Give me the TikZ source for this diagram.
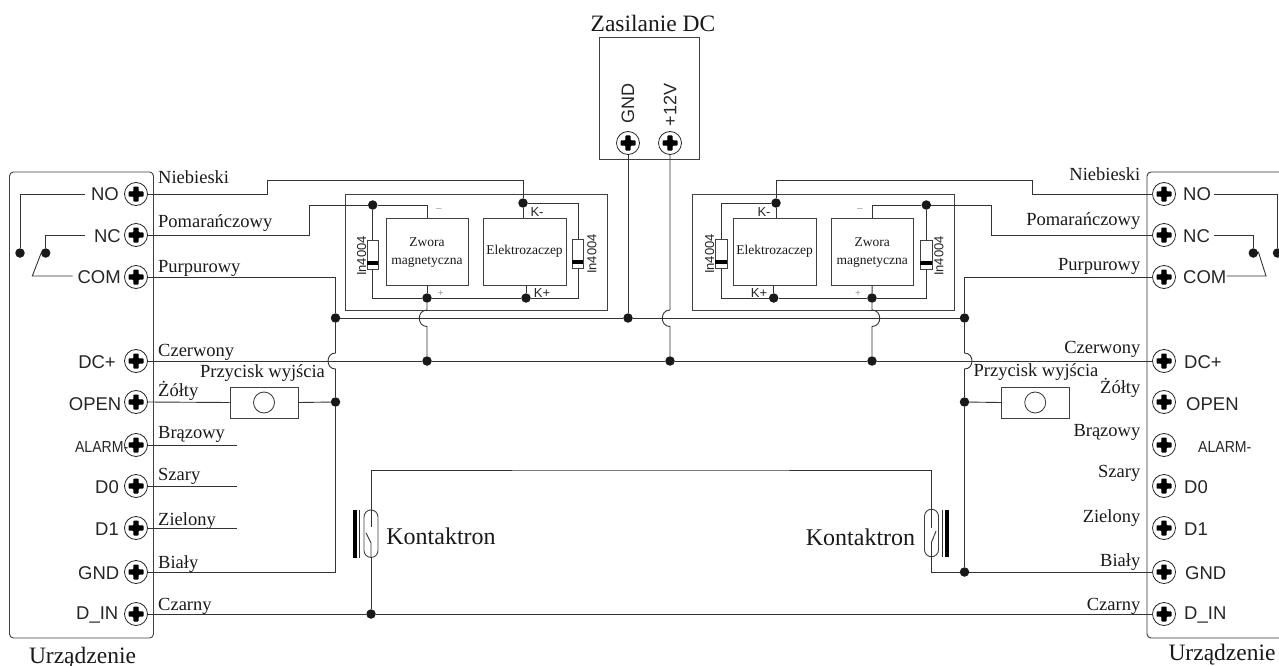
\documentclass[tikz,border=0pt]{standalone}
\usepackage{fontspec}
\setmainfont{Liberation Serif}
\newfontfamily\sansf{Liberation Sans}
\newfontfamily\alarmf[FakeStretch=0.88]{Liberation Sans}
\usetikzlibrary{positioning}

\tikzset{
    wire/.style={draw=black!80, line width=0.9pt},
    devbox/.style={draw=black!75, line width=0.9pt, rectangle, inner sep=0pt},
    term/.style={draw=black!85, line width=0.8pt, circle, minimum size=23pt, inner sep=0pt, fill=white},
    junction/.style={circle, fill=black!90, minimum size=9.5pt, inner sep=0pt},
    wirelbl/.style={font=\fontsize{18.5}{20}\selectfont, inner sep=0pt, text=black!90},
    termlbl/.style={font=\sansf\fontsize{18.5}{20}\selectfont, inner sep=0pt, text=black!85},
    unitlbl/.style={font=\fontsize{13.5}{15}\selectfont, inner sep=0pt, align=center, text=black!90},
    smalllbl/.style={font=\sansf\fontsize{13}{15}\selectfont, inner sep=0pt, text=black!85},
    signlbl/.style={font=\sansf\fontsize{10}{12}\selectfont, inner sep=0pt, text=black!40},
    titlelbl/.style={font=\fontsize{23.5}{25}\selectfont, inner sep=0pt, text=black!90},
    screwhead/.pic={
        \fill[rounded corners=0.8pt] (-2.6,-7.5) -- (2.6,-7.5) -- (2.6,-2.6) -- (7.5,-2.6) -- (7.5,2.6) -- (2.6,2.6)
            -- (2.6,7.5) -- (-2.6,7.5) -- (-2.6,2.6) -- (-7.5,2.6) -- (-7.5,-2.6) -- (-2.6,-2.6) -- cycle;
    },
}

\begin{document}
\begin{tikzpicture}[x=1pt, y=-1pt]
    \useasboundingbox (0,0) rectangle (1279,666);

    % Housings
    \node[devbox, rounded corners=4pt, minimum width=144pt, minimum height=466pt] (devL) at (81.5,405) {};
    \draw[wire, rounded corners=4pt] (1290,172) -- (1147,172) -- (1147,638) -- (1290,638);
    \node[devbox, minimum width=99.5pt, minimum height=122pt] (supply) at (649.2,98.8) {};
    \node[devbox, minimum width=262pt, minimum height=116pt] (frameL) at (476,252) {};
    \node[devbox, minimum width=262pt, minimum height=116pt] (frameR) at (823.7,252) {};

    % Terminals
    \foreach \name/\ypos in {NO/194, NC/235, COM/277, DC/361, OPEN/402, ALARM/445, DZ/486, DO/528, GND/572, DIN/614} {
        \node[term] (l\name) at (136,\ypos) {};
        \pic at (l\name) {screwhead};
        \node[term] (r\name) at (1164,\ypos) {};
        \pic at (r\name) {screwhead};
    }
    \node[term] (pGND) at (628,143) {};
    \pic at (pGND) {screwhead};
    \node[term] (pV) at (670,143) {};
    \pic at (pV) {screwhead};

    % Terminal labels
    \foreach \name/\ypos/\xl/\xr/\txt in {NO/194/119/1183/NO, NC/236/121/1183/NC, COM/277/121/1183/COM, DC/362/116/1184/DC+,
        OPEN/404/121.5/1186/OPEN, DZ/487/119/1184/D0, DO/529/119/1184/D1, GND/573/119.5/1185/GND, DIN/615/118.5/1184/D\_IN} {
        \node[termlbl, anchor=east] (lt\name) at (\xl,\ypos) {\txt};
        \node[termlbl, anchor=west] (rt\name) at (\xr,\ypos) {\txt};
    }
    \node[termlbl, font=\alarmf\fontsize{16}{18}\selectfont, anchor=east] (ltALARM) at (128.5,447) {ALARM-};
    \node[termlbl, font=\alarmf\fontsize{16}{18}\selectfont, anchor=west] (rtALARM) at (1198,447) {ALARM-};
    \node[termlbl, font=\sansf\fontsize{18}{20}\selectfont, rotate=90] (ptGND) at (628,104) {GND};
    \node[termlbl, font=\sansf\fontsize{18}{20}\selectfont, rotate=90] (ptV) at (670,105) {+12V};

    % Wire colours
    \foreach \name/\yl/\yr/\txt in {a/183/180/Niebieski, b/227/225.7/Pomarańczowy, c/272/270/Purpurowy, d/356.7/353.3/Czerwony,
        e/396.7/393.3/Żółty, f/438/436/Brązowy, g/480.7/477.7/Szary, h/525/522/Zielony, i/568/566/Biały, j/610.5/610.5/Czarny} {
        \node[wirelbl, anchor=base west] (cl\name) at (158,\yl) {\txt};
        \node[wirelbl, anchor=base east] (cr\name) at (1140.5,\yr) {\txt};
    }
    \node[wirelbl] (btnTxtL) at (262.5,373) {Przycisk wyjścia};
    \node[wirelbl] (btnTxtR) at (1036,372.5) {Przycisk wyjścia};

    % Titles
    \node[titlelbl, anchor=base] (ttlP) at (653,31.5) {Zasilanie DC};
    \node[titlelbl, anchor=base] (ttlL) at (82.5,663) {Urządzenie};
    \node[titlelbl, anchor=base] (ttlR) at (1222,660.7) {Urządzenie};
    \node[titlelbl, font=\fontsize{24}{26}\selectfont] (kontL) at (441,536) {Kontaktron};
    \node[titlelbl, font=\fontsize{24}{26}\selectfont] (kontR) at (860.5,537) {Kontaktron};

    % Lock units
    \node[devbox, minimum width=82pt, minimum height=67pt] (zwL) at (427,251.5) {};
    \node[unitlbl, yshift=-1pt] at (zwL) {Zwora\\[3pt]magnetyczna};
    \node[devbox, minimum width=83pt, minimum height=67pt] (elL) at (524.5,251.5) {};
    \node[unitlbl] at (elL) {Elektrozaczep};
    \node[devbox, minimum width=83pt, minimum height=67pt] (elR) at (774.7,251.5) {};
    \node[unitlbl] at (elR) {Elektrozaczep};
    \node[devbox, minimum width=82pt, minimum height=67pt] (zwR) at (872.2,251.5) {};
    \node[unitlbl, yshift=-1pt] at (zwR) {Zwora\\[3pt]magnetyczna};

    % Junctions
    \foreach \name/\pos in {jKmL/{523,203}, jZmL/{372.7,205}, jZpL/{427,298}, jKpL/{526,298}, jBusA/{335.5,318}, jBusP/{628,318},
        jBusB/{964.5,318}, jDcZL/{427,361}, jDcV/{670,361}, jDcZR/{872,361}, jKmR/{776,203}, jZmR/{926.3,205}, jKpR/{773.7,298},
        jZpR/{872,298}, jBtnL/{335.5,402}, jBtnR/{964.5,402}, jGndR/{964.5,572}, jReed/{371,614},
        jNoL/{20,253}, jNcL/{45.7,253}, jNcR/{1253.3,253}, jNoR/{1277.5,253}} {
        \node[junction] (\name) at (\pos) {};
    }

    % Diodes
    \node[devbox, fill=white, minimum width=11.5pt, minimum height=29pt] (dioL) at (372.7,254.5) {};
    \node[devbox, fill=white, minimum width=11.5pt, minimum height=29pt] (dioB) at (578,253.5) {};
    \node[devbox, fill=white, minimum width=11.5pt, minimum height=29pt] (dioC) at (721.3,253.5) {};
    \node[devbox, fill=white, minimum width=11.5pt, minimum height=29pt] (dioR) at (926.3,254.5) {};
    \foreach \name in {dioL, dioB, dioC, dioR} {
        \fill (\name.south west) ++(0,-4.5) rectangle ++(11.5,-3.5);
    }
    \node[smalllbl, rotate=90] (inL) at (361.7,256) {In4004};
    \node[smalllbl, rotate=90] (inB) at (592,254) {In4004};
    \node[smalllbl, rotate=90] (inC) at (709.7,254) {In4004};
    \node[smalllbl, rotate=90] (inR) at (939,256) {In4004};
    \node[smalllbl] (kmL) at (537,212) {K-};
    \node[smalllbl] (kpL) at (542,293) {K+};
    \node[smalllbl] (kmR) at (764,212) {K-};
    \node[smalllbl] (kpR) at (759,293) {K+};
    \node[signlbl] (zmL) at (439,210.5) {–};
    \node[signlbl] (zpL) at (440.7,294) {+};
    \node[signlbl] (zmR) at (860,210.5) {–};
    \node[signlbl] (zpR) at (858,294) {+};

    % Exit buttons
    \node[devbox, minimum width=68pt, minimum height=31pt] (btnL) at (264,402.5) {};
    \node[draw=black!80, line width=0.8pt, circle, minimum size=21pt, inner sep=0pt] (capL) at (btnL) {};
    \node[devbox, minimum width=68pt, minimum height=31pt] (btnR) at (1035.2,402.5) {};
    \node[draw=black!80, line width=0.8pt, circle, minimum size=21pt, inner sep=0pt] (capR) at (btnR) {};

    % Reed switches
    \node[devbox, rounded corners=7pt, minimum width=14pt, minimum height=47.5pt] (reedL) at (371,533.7) {};
    \node[devbox, rounded corners=7pt, minimum width=14pt, minimum height=47.5pt] (reedR) at (931.5,533) {};
    \fill (353.3,510) rectangle (357.3,557.5);
    \draw[wire] (359.5,510) -- (359.5,557.5);
    \fill (945,509.5) rectangle (949.3,557);
    \draw[wire] (942.3,509.5) -- (942.3,557);
    \draw[wire] (reedL.north) -- ++(0,17);
    \draw[wire] (reedL.south) -- ++(0,-15) -- ++(-5,-10);
    \draw[wire] (reedR.north) -- ++(0,19);
    \draw[wire] (reedR.south) -- ++(0,-15) -- ++(4.5,-11);

    % Free ends and bends
    \coordinate (bendNbL) at (267.5,180);
    \coordinate (bendPmL) at (309,205);
    \coordinate (bendNbR) at (1032,180);
    \coordinate (bendPmR) at (991,205);
    \coordinate (botL) at (372.7,298);
    \coordinate (botB) at (578,298);
    \coordinate (botC) at (721.3,298);
    \coordinate (botR) at (926.3,298);
    \coordinate (stubF) at (236.5,445);
    \coordinate (stubG) at (236.5,486);
    \coordinate (stubH) at (236.5,528);
    \coordinate (reedTop) at (650,470);

    % Hops over the supply rails
    \coordinate (hopZLa) at (427,310);
    \coordinate (hopZLb) at (427,326.5);
    \coordinate (hopVa) at (670,310);
    \coordinate (hopVb) at (670,326.5);
    \coordinate (hopZRa) at (872,310);
    \coordinate (hopZRb) at (872,326.5);
    \coordinate (hopAa) at (335.5,353);
    \coordinate (hopAb) at (335.5,369);
    \coordinate (hopBa) at (964.5,353);
    \coordinate (hopBb) at (964.5,369);

    % Left side wiring
    \draw[wire] (lNO.east) -| (bendNbL) -| (jKmL);
    \draw[wire] (jKmL) -- (elL.north -| jKmL);
    \draw[wire] (jKmL) -| (dioB.north);
    \draw[wire] (dioB.south) -- (botB) -- (jKpL);
    \draw[wire] (jKpL) -- (jZpL) -- (botL) -- (dioL.south);
    \draw[wire] (dioL.north) -- (jZmL);
    \draw[wire] (lNC.east) -| (bendPmL) -- (jZmL) -| (zwL.north);
    \draw[wire] (zwL.south) -- (jZpL);
    \draw[wire] (elL.south -| jKpL) -- (jKpL);
    \draw[wire] (jZpL) -- (hopZLa) to[out=180, in=180, looseness=1.6] (hopZLb) -- (jDcZL);
    \draw[wire] (lCOM.east) -| (jBusA);
    \draw[wire] (jBusA) -- (hopAa) to[out=180, in=180, looseness=1.6] (hopAb) -- (jBtnL);
    \draw[wire] (jBtnL) |- (lGND.east);
    \draw[wire] (lOPEN.east) -- (btnL.west);
    \draw[wire] (btnL.east) -- (jBtnL);
    \draw[wire] (lALARM.east) -- (stubF);
    \draw[wire] (lDZ.east) -- (stubG);
    \draw[wire] (lDO.east) -- (stubH);

    % Right side wiring
    \draw[wire] (rNO.west) -| (bendNbR) -| (jKmR);
    \draw[wire] (jKmR) -- (elR.north -| jKmR);
    \draw[wire] (jKmR) -| (dioC.north);
    \draw[wire] (dioC.south) -- (botC) -- (jKpR);
    \draw[wire] (jKpR) -- (jZpR) -- (botR) -- (dioR.south);
    \draw[wire] (dioR.north) -- (jZmR);
    \draw[wire] (rNC.west) -| (bendPmR) -- (jZmR) -| (zwR.north);
    \draw[wire] (zwR.south) -- (jZpR);
    \draw[wire] (elR.south -| jKpR) -- (jKpR);
    \draw[wire] (jZpR) -- (hopZRa) to[out=0, in=0, looseness=1.6] (hopZRb) -- (jDcZR);
    \draw[wire] (rCOM.west) -| (jBusB);
    \draw[wire] (jBusB) -- (hopBa) to[out=0, in=0, looseness=1.6] (hopBb) -- (jBtnR);
    \draw[wire] (jBtnR) -- (jGndR);
    \draw[wire] (rGND.west) -- (jGndR);
    \draw[wire] (jBtnR) -- (btnR.west);

    % Supply rails
    \draw[wire] (pGND.south) -- (jBusP);
    \draw[wire] (pV.south) -- (hopVa) to[out=180, in=180, looseness=1.6] (hopVb) -- (jDcV);
    \draw[wire] (jBusA) -- (jBusP) -- (jBusB);
    \draw[wire] (lDC.east) -- (jDcZL) -- (jDcV) -- (jDcZR) -- (rDC.west);

    % Contact loop
    \draw[wire] (reedL.north) |- (reedTop) -| (reedR.north);
    \draw[wire] (reedL.south) -- (jReed);
    \draw[wire] (reedR.south) |- (jGndR);
    \draw[wire] (lDIN.east) -- (jReed) -- (rDIN.west);

    % Relay contacts
    \coordinate (noLa) at (85,194);
    \coordinate (ncLa) at (85,235.7);
    \coordinate (comLa) at (72.7,276);
    \coordinate (comLb) at (32.3,276);
    \coordinate (comLc) at (41.7,251.7);
    \draw[wire] (noLa) -| (jNoL);
    \draw[wire] (ncLa) -| (jNcL);
    \draw[wire] (comLa) -- (comLb) -- (comLc);
    \coordinate (noRa) at (1214.3,194);
    \coordinate (ncRa) at (1214.3,235.7);
    \coordinate (comRa) at (1226.7,276);
    \coordinate (comRb) at (1266,276);
    \coordinate (comRc) at (1258.3,251.7);
    \draw[wire] (noRa) -| (jNoR);
    \draw[wire] (ncRa) -| (jNcR);
    \draw[wire] (comRa) -- (comRb) -- (comRc);
\end{tikzpicture}
\end{document}
